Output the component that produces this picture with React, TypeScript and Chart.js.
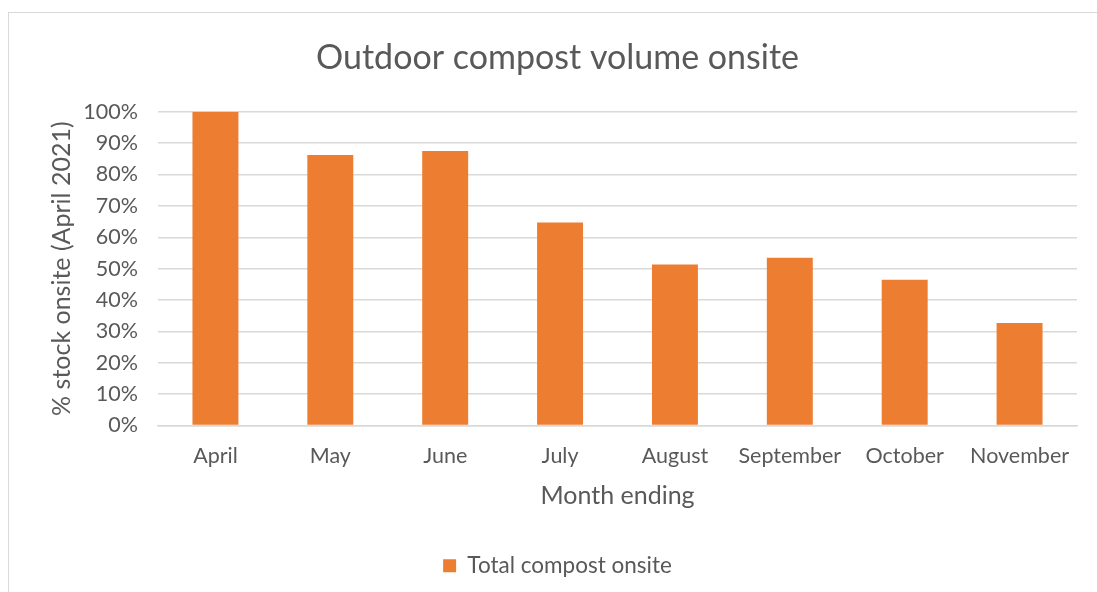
import React, { useEffect, useRef } from "react";
import { Chart, registerables } from "chart.js";

Chart.register(...registerables);

const categories = ["April", "May", "June", "July", "August", "September", "October", "November"];
const totalCompost = [100, 86.2, 87.5, 64.7, 51.3, 53.5, 46.5, 32.7];
const yTicks = [0, 10, 20, 30, 40, 50, 60, 70, 80, 90, 100];

const FONT = "Lato, 'Open Sans', sans-serif";
const TXT = "#595959";

export default function App() {
  const ref = useRef<HTMLCanvasElement | null>(null);

  useEffect(() => {
    document.body.style.margin = "0";
    const ctx = ref.current!;
    const chart = new Chart(ctx, {
      type: "bar",
      data: {
        labels: categories,
        datasets: [
          {
            label: "Total compost onsite",
            data: totalCompost,
            backgroundColor: "#ED7D31",
            borderWidth: 0,
            categoryPercentage: 1,
            barPercentage: 0.4,
          },
        ],
      },
      options: {
        animation: false,
        responsive: false,
        maintainAspectRatio: false,
        layout: { padding: { left: 30, right: 37, top: 38, bottom: 5 } },
        plugins: {
          title: {
            display: true,
            text: "Outdoor compost volume onsite",
            color: TXT,
            font: { family: FONT, size: 34, weight: "normal" },
            padding: { top: 0, bottom: 33 },
          },
          legend: {
            position: "bottom",
            labels: {
              color: TXT,
              font: { family: FONT, size: 22.5 },
              boxWidth: 13,
              boxHeight: 13,
              padding: 10,
            },
          },
          tooltip: { enabled: false },
        },
        scales: {
          x: {
            afterFit: (axis: any) => {
              axis.height = 119;
            },
            grid: { display: false, drawTicks: false },
            border: { display: true, color: "#d9d9d9", width: 1.5 },
            ticks: { color: TXT, font: { family: FONT, size: 21.5 }, padding: 18, maxRotation: 0 },
            title: {
              display: true,
              text: "Month ending",
              color: TXT,
              font: { family: FONT, size: 25 },
              padding: { top: 0, bottom: 34 },
            },
          },
          y: {
            min: 0,
            max: 100,
            afterBuildTicks: (axis: any) => {
              axis.ticks = yTicks.map((v) => ({ value: v }));
            },
            afterFit: (axis: any) => {
              axis.width = 120;
            },
            grid: { color: "#d9d9d9", lineWidth: 1.5, drawTicks: false },
            border: { display: false },
            ticks: {
              color: TXT,
              font: { family: FONT, size: 21.5 },
              padding: 20,
              callback: (v: any) => v + "%",
            },
            title: {
              display: true,
              text: "% stock onsite (April 2021)",
              color: TXT,
              font: { family: FONT, size: 25 },
              padding: { top: 9, bottom: 0 },
            },
          },
        },
      },
    });
    return () => chart.destroy();
  }, []);

  return (
    <div
      style={{
        position: "fixed",
        left: 0,
        top: 0,
        width: 1097,
        height: 592,
        overflow: "hidden",
        background: "#fff",
      }}
    >
      <div
        style={{
          position: "absolute",
          left: 8,
          top: 12,
          width: 1200,
          height: 700,
          border: "1.5px solid #d9d9d9",
        }}
      />
      <canvas
        ref={ref}
        width={1106}
        height={592}
        style={{ position: "absolute", left: 8, top: 0, width: 1106, height: 592 }}
      />
    </div>
  );
}
